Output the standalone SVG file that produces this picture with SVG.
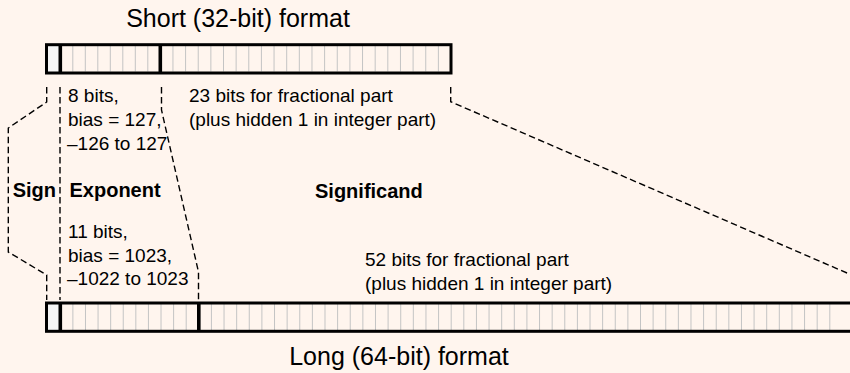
<svg xmlns="http://www.w3.org/2000/svg" width="850" height="373" viewBox="0 0 850 373">
<style>
text{font-family:"Liberation Sans",Arial,sans-serif;fill:#000}
.t{font-size:19px}
.b{font-size:20px;font-weight:bold}
.h{font-size:25px}
.frame{fill:none;stroke:#000;stroke-width:3}
.div{stroke:#000;stroke-width:3.6}
.cell{fill:none;stroke:#c4c4c4;stroke-width:1}
.dash{fill:none;stroke:#000;stroke-width:1.4;stroke-dasharray:6.5 3.5}
</style>
<rect width="850" height="373" fill="#fff5ee"/>
<g id="connectors">
<polyline class="dash" points="46.7,87 46.7,102 8.3,128 8.3,252 46.7,275 46.7,300"/>
<line class="dash" x1="60" y1="87" x2="60" y2="300"/>
<polyline class="dash" points="161.5,87 161.5,110 198.5,272 198.5,300"/>
<polyline class="dash" points="450.7,87 450.7,101.7 847,273 852,275"/>
</g>
<g id="short-title"><text class="h" x="238" y="27" text-anchor="middle">Short (32-bit) format</text></g>
<g id="short-bar">
<rect x="47.5" y="46" width="12.8" height="26" fill="#f5f5f5"/>
<path class="cell" d="M72.8 46v25.5m12.5-25.5v25.5m12.5-25.5v25.5m12.5-25.5v25.5m12.5-25.5v25.5m12.5-25.5v25.5m12.5-25.5v25.5"/>
<path class="cell" d="M172.94 46v25.5m12.64-25.5v25.5m12.64-25.5v25.5m12.64-25.5v25.5m12.64-25.5v25.5m12.64-25.5v25.5m12.64-25.5v25.5m12.64-25.5v25.5m12.64-25.5v25.5m12.64-25.5v25.5m12.64-25.5v25.5m12.64-25.5v25.5m12.64-25.5v25.5m12.64-25.5v25.5m12.64-25.5v25.5m12.64-25.5v25.5m12.64-25.5v25.5m12.64-25.5v25.5m12.64-25.5v25.5m12.64-25.5v25.5m12.64-25.5v25.5m12.64-25.5v25.5"/>
<line class="div" x1="60.3" y1="44.7" x2="60.3" y2="73"/>
<line class="div" x1="160.3" y1="44.7" x2="160.3" y2="73"/>
<rect class="frame" x="46.5" y="44.7" width="404.5" height="28.3"/>
</g>
<g id="exp-short-label">
<text class="t" x="68" y="102">8 bits,</text>
<text class="t" x="68" y="126">bias = 127,</text>
<text class="t" x="67" y="150">–126 to 127</text>
</g>
<g id="frac-short-label">
<text class="t" x="189" y="102">23 bits for fractional part</text>
<text class="t" x="189" y="126">(plus hidden 1 in integer part)</text>
</g>
<g id="sign-label"><text class="b" x="12.7" y="197">Sign</text></g>
<g id="exponent-label"><text class="b" x="69.5" y="197">Exponent</text></g>
<g id="significand-label"><text class="b" x="315" y="198">Significand</text></g>
<g id="exp-long-label">
<text class="t" x="68" y="238">11 bits,</text>
<text class="t" x="68" y="261.5">bias = 1023,</text>
<text class="t" x="67" y="284.5">–1022 to 1023</text>
</g>
<g id="frac-long-label">
<text class="t" x="365" y="266">52 bits for fractional part</text>
<text class="t" x="365" y="290">(plus hidden 1 in integer part)</text>
</g>
<g id="long-bar">
<rect x="47.5" y="304" width="12.8" height="26" fill="#f5f5f5"/>
<path class="cell" d="M72.89 304v26m12.59-26v26m12.59-26v26m12.59-26v26m12.59-26v26m12.59-26v26m12.59-26v26m12.59-26v26m12.59-26v26m12.59-26v26"/>
<path class="cell" d="M211.42 304v26m12.62-26v26m12.62-26v26m12.62-26v26m12.62-26v26m12.62-26v26m12.62-26v26m12.62-26v26m12.62-26v26m12.62-26v26m12.62-26v26m12.62-26v26m12.62-26v26m12.62-26v26m12.62-26v26m12.62-26v26m12.62-26v26m12.62-26v26m12.62-26v26m12.62-26v26m12.62-26v26m12.62-26v26m12.62-26v26m12.62-26v26m12.62-26v26m12.62-26v26m12.62-26v26m12.62-26v26m12.62-26v26m12.62-26v26m12.62-26v26m12.62-26v26m12.62-26v26m12.62-26v26m12.62-26v26m12.62-26v26m12.62-26v26m12.62-26v26m12.62-26v26m12.62-26v26m12.62-26v26m12.62-26v26m12.62-26v26m12.62-26v26m12.62-26v26m12.62-26v26m12.62-26v26m12.62-26v26m12.62-26v26m12.62-26v26"/>
<line class="div" x1="60.3" y1="302.5" x2="60.3" y2="331.5"/>
<line class="div" x1="198.8" y1="302.5" x2="198.8" y2="331.5"/>
<rect class="frame" x="46.5" y="303" width="860" height="28.3"/>
</g>
<g id="long-title"><text class="h" x="399" y="365" text-anchor="middle">Long (64-bit) format</text></g>
</svg>
